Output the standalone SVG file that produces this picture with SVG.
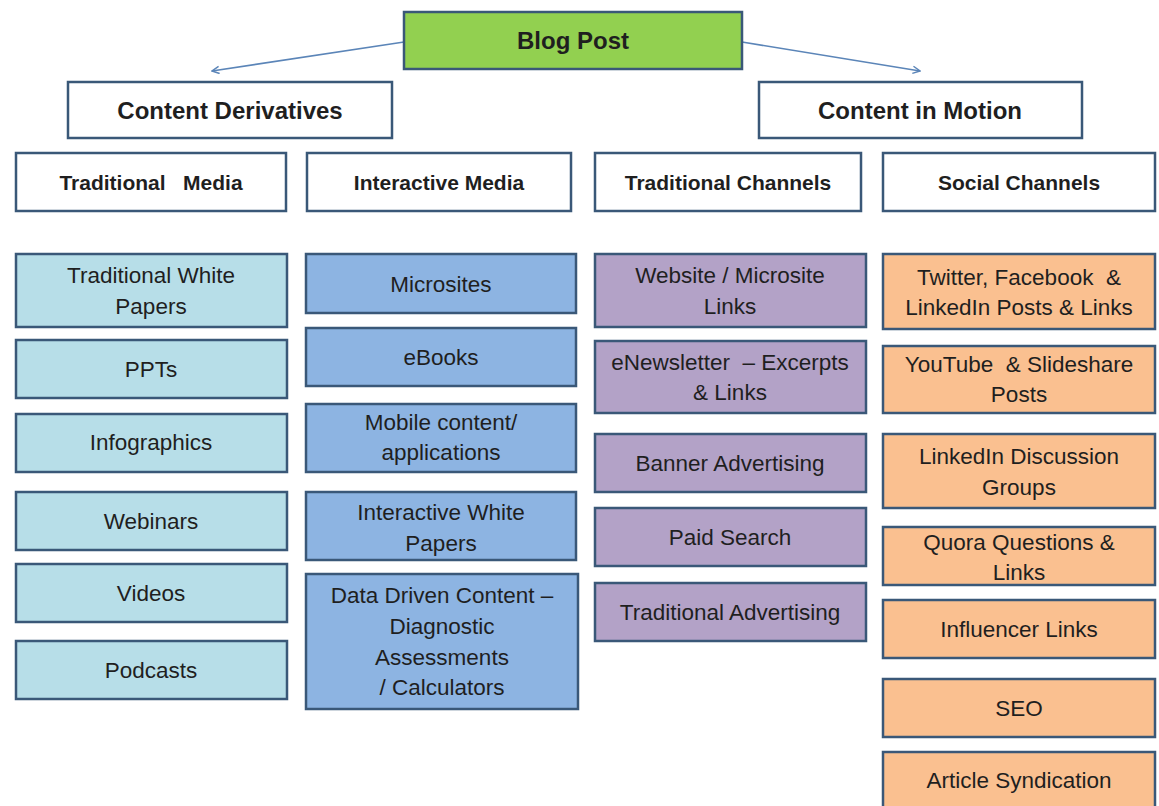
<svg xmlns="http://www.w3.org/2000/svg" width="1159" height="806" viewBox="0 0 1159 806">
<defs>
<style>
.b{stroke:#3a5878;stroke-width:2.5}
.w{fill:#ffffff}
.g{fill:#92d050}
.lb{fill:#b7dee8}
.bl{fill:#8db4e2}
.pu{fill:#b3a2c7}
.or{fill:#fac090}
text{font-family:"Liberation Sans",Arial,sans-serif;fill:#1f1f1f;text-anchor:middle;white-space:pre}
.h{font-weight:bold;font-size:24px}
.s{font-weight:bold;font-size:21px}
.t{font-size:22.5px}
.c{fill:none;stroke:#5b85b8;stroke-width:1.6}
</style>
<marker id="ah" viewBox="0 0 10 10" refX="9" refY="5" markerWidth="9" markerHeight="9" orient="auto" markerUnits="userSpaceOnUse">
<path d="M1,1 L9,5 L1,9" fill="none" stroke="#5b85b8" stroke-width="1.6"/>
</marker>
</defs>
<rect width="1159" height="806" fill="#ffffff"/>
<g id="connectors">
<line class="c" x1="404" y1="42" x2="212" y2="71" marker-end="url(#ah)"/>
<line class="c" x1="742" y1="42" x2="920" y2="71" marker-end="url(#ah)"/>
</g>
<g id="blog-post"><rect class="b g" x="404" y="12" width="338" height="57"/><text class="h" x="573" y="49">Blog Post</text></g>
<g id="content-derivatives"><rect class="b w" x="68" y="82" width="324" height="56"/><text class="h" x="230" y="119">Content Derivatives</text></g>
<g id="content-in-motion"><rect class="b w" x="759" y="82" width="323" height="56"/><text class="h" x="920" y="119">Content in Motion</text></g>
<g id="traditional-media"><rect class="b w" x="16" y="153" width="270" height="58"/><text class="s" x="151" y="190" xml:space="preserve">Traditional   Media</text></g>
<g id="interactive-media"><rect class="b w" x="307" y="153" width="264" height="58"/><text class="s" x="439" y="190">Interactive Media</text></g>
<g id="traditional-channels"><rect class="b w" x="595" y="153" width="266" height="58"/><text class="s" x="728" y="190">Traditional Channels</text></g>
<g id="social-channels"><rect class="b w" x="883" y="153" width="272" height="58"/><text class="s" x="1019" y="190">Social Channels</text></g>

<g id="traditional-white-papers"><rect class="b lb" x="16" y="254" width="271" height="73"/><text class="t" x="151" y="283">Traditional White</text><text class="t" x="151" y="314">Papers</text></g>
<g id="ppts"><rect class="b lb" x="16" y="340" width="271" height="58"/><text class="t" x="151" y="377">PPTs</text></g>
<g id="infographics"><rect class="b lb" x="16" y="414" width="271" height="58"/><text class="t" x="151" y="450">Infographics</text></g>
<g id="webinars"><rect class="b lb" x="16" y="492" width="271" height="58"/><text class="t" x="151" y="529">Webinars</text></g>
<g id="videos"><rect class="b lb" x="16" y="564" width="271" height="58"/><text class="t" x="151" y="601">Videos</text></g>
<g id="podcasts"><rect class="b lb" x="16" y="641" width="271" height="58"/><text class="t" x="151" y="678">Podcasts</text></g>

<g id="microsites"><rect class="b bl" x="306" y="254" width="270" height="59"/><text class="t" x="441" y="292">Microsites</text></g>
<g id="ebooks"><rect class="b bl" x="306" y="328" width="270" height="58"/><text class="t" x="441" y="365">eBooks</text></g>
<g id="mobile-content"><rect class="b bl" x="306" y="404" width="270" height="68"/><text class="t" x="441" y="430">Mobile content/</text><text class="t" x="441" y="460">applications</text></g>
<g id="interactive-white-papers"><rect class="b bl" x="306" y="492" width="270" height="68"/><text class="t" x="441" y="520">Interactive White</text><text class="t" x="441" y="551">Papers</text></g>
<g id="data-driven"><rect class="b bl" x="306" y="574" width="272" height="135"/><text class="t" x="442" y="603">Data Driven Content –</text><text class="t" x="442" y="634">Diagnostic</text><text class="t" x="442" y="665">Assessments</text><text class="t" x="442" y="695">/ Calculators</text></g>

<g id="website-links"><rect class="b pu" x="595" y="254" width="271" height="73"/><text class="t" x="730" y="283">Website / Microsite</text><text class="t" x="730" y="314">Links</text></g>
<g id="enewsletter"><rect class="b pu" x="595" y="341" width="271" height="72"/><text class="t" x="730" y="370" xml:space="preserve">eNewsletter  – Excerpts</text><text class="t" x="730" y="400">&amp; Links</text></g>
<g id="banner-advertising"><rect class="b pu" x="595" y="434" width="271" height="58"/><text class="t" x="730" y="471">Banner Advertising</text></g>
<g id="paid-search"><rect class="b pu" x="595" y="508" width="271" height="58"/><text class="t" x="730" y="545">Paid Search</text></g>
<g id="traditional-advertising"><rect class="b pu" x="595" y="583" width="271" height="58"/><text class="t" x="730" y="620">Traditional Advertising</text></g>

<g id="social-posts"><rect class="b or" x="883" y="254" width="272" height="75"/><text class="t" x="1019" y="285" xml:space="preserve">Twitter, Facebook  &amp;</text><text class="t" x="1019" y="315">LinkedIn Posts &amp; Links</text></g>
<g id="youtube"><rect class="b or" x="883" y="346" width="272" height="67"/><text class="t" x="1019" y="372" xml:space="preserve">YouTube  &amp; Slideshare</text><text class="t" x="1019" y="402">Posts</text></g>
<g id="linkedin-groups"><rect class="b or" x="883" y="434" width="272" height="74"/><text class="t" x="1019" y="464">LinkedIn Discussion</text><text class="t" x="1019" y="495">Groups</text></g>
<g id="quora"><rect class="b or" x="883" y="527" width="272" height="58"/><text class="t" x="1019" y="550">Quora Questions &amp;</text><text class="t" x="1019" y="580">Links</text></g>
<g id="influencer-links"><rect class="b or" x="883" y="600" width="272" height="58"/><text class="t" x="1019" y="637">Influencer Links</text></g>
<g id="seo"><rect class="b or" x="883" y="679" width="272" height="58"/><text class="t" x="1019" y="716">SEO</text></g>
<g id="article-syndication"><rect class="b or" x="883" y="752" width="272" height="60"/><text class="t" x="1019" y="788">Article Syndication</text></g>
</svg>
